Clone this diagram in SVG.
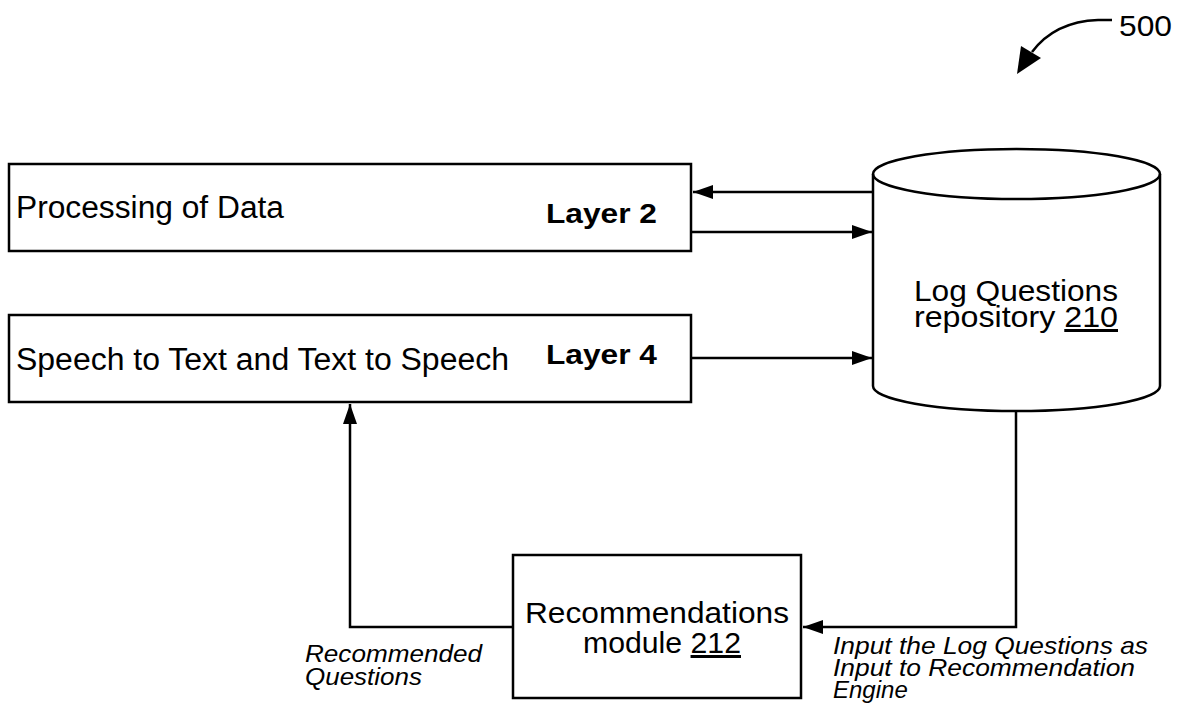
<svg xmlns="http://www.w3.org/2000/svg" width="1182" height="706" viewBox="0 0 1182 706">
<defs>
<style>
.box{fill:#fff;stroke:#000;stroke-width:2.5}
.ln{fill:none;stroke:#000;stroke-width:2.5}
.t{font-family:"Liberation Sans",Arial,sans-serif;fill:#000}
.b{font-weight:bold}
.i{font-style:italic}
</style>
<marker id="ah" viewBox="0 0 20 14" refX="20" refY="7" markerWidth="20" markerHeight="14" markerUnits="userSpaceOnUse" orient="auto">
<path d="M0,0 L20,7 L0,14 Z" fill="#000"/>
</marker>
</defs>
<rect width="1182" height="706" fill="#fff"/>

<g id="ref500">
<path class="ln" d="M1112,20 L1098,20 C1070,21 1047,32 1032,52" stroke-width="3.5"/>
<path d="M1017,74 L1021,46 L1041,58 Z" fill="#000"/>
<text class="t" x="1119" y="36" font-size="30" textLength="53" lengthAdjust="spacingAndGlyphs">500</text>
</g>

<g id="layer2">
<rect class="box" x="9" y="164" width="682" height="87"/>
<text class="t" x="16" y="218" font-size="31" textLength="268" lengthAdjust="spacingAndGlyphs">Processing of Data</text>
<text class="t b" x="546" y="223" font-size="28" textLength="111" lengthAdjust="spacingAndGlyphs">Layer 2</text>
</g>

<g id="layer4">
<rect class="box" x="9" y="315" width="682" height="87"/>
<text class="t" x="16" y="370" font-size="31" textLength="493" lengthAdjust="spacingAndGlyphs">Speech to Text and Text to Speech</text>
<text class="t b" x="546" y="364" font-size="28" textLength="111" lengthAdjust="spacingAndGlyphs">Layer 4</text>
</g>

<g id="repository">
<path class="box" d="M873,174 L873,386 A143.5,25 0 0 0 1160,386 L1160,174 A143.5,25 0 0 0 873,174 Z"/>
<path class="ln" d="M873,174 A143.5,25 0 0 0 1160,174"/>
<text class="t" x="1016" y="301" font-size="30" text-anchor="middle" textLength="204" lengthAdjust="spacingAndGlyphs">Log Questions</text>
<text class="t" x="1016" y="327" font-size="30" text-anchor="middle" textLength="204" lengthAdjust="spacingAndGlyphs">repository <tspan text-decoration="underline">210</tspan></text>
</g>

<g id="recommendations">
<rect class="box" x="513" y="555" width="288" height="143"/>
<text class="t" x="657" y="623" font-size="30" text-anchor="middle" textLength="264" lengthAdjust="spacingAndGlyphs">Recommendations</text>
<text class="t" x="662" y="653" font-size="30" text-anchor="middle" textLength="158" lengthAdjust="spacingAndGlyphs">module <tspan text-decoration="underline">212</tspan></text>
</g>

<g id="connectors">
<line class="ln" x1="873" y1="192" x2="693" y2="192" marker-end="url(#ah)"/>
<line class="ln" x1="691" y1="232" x2="872" y2="232" marker-end="url(#ah)"/>
<line class="ln" x1="691" y1="358" x2="872" y2="358" marker-end="url(#ah)"/>
<polyline class="ln" points="1016,411 1016,627 803,627" marker-end="url(#ah)"/>
<polyline class="ln" points="513,627 350,627 350,404" marker-end="url(#ah)"/>
</g>

<g id="labels">
<text class="t i" x="305" y="662" font-size="24" textLength="177" lengthAdjust="spacingAndGlyphs">Recommended</text>
<text class="t i" x="305" y="685" font-size="24" textLength="117" lengthAdjust="spacingAndGlyphs">Questions</text>
<text class="t i" x="833" y="654" font-size="24" textLength="315" lengthAdjust="spacingAndGlyphs">Input the Log Questions as</text>
<text class="t i" x="833" y="676" font-size="24" textLength="302" lengthAdjust="spacingAndGlyphs">Input to Recommendation</text>
<text class="t i" x="833" y="698" font-size="24">Engine</text>
</g>
</svg>
